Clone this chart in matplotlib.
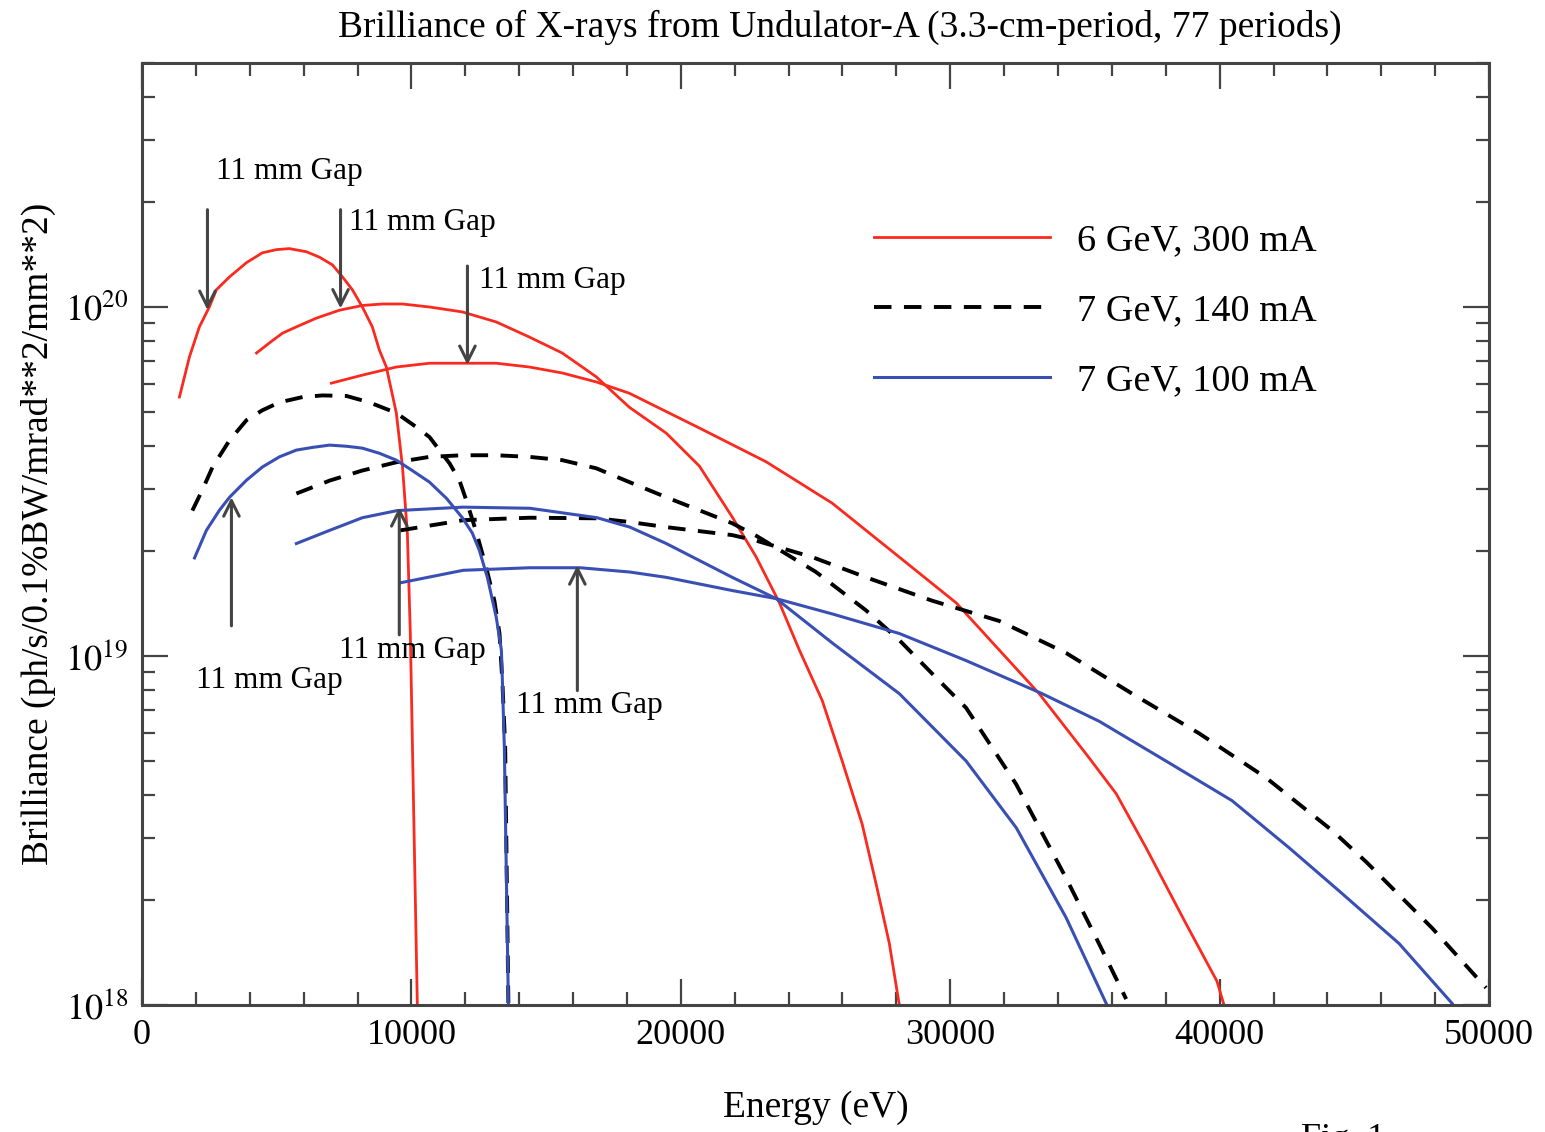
import matplotlib
matplotlib.use("Agg")
import matplotlib.pyplot as plt
import numpy as np

plt.rcParams['font.family'] = ['Liberation Serif', 'DejaVu Serif']
plt.rcParams['mathtext.fontset'] = 'stix'

# Photon energy (eV) and brilliance (units of 1e19 ph/s/0.1%BW/mrad^2/mm^2)
# 6 GeV, 300 mA: first, third and fifth harmonic tuning curves
red_h1_e = [1390, 1760, 2130, 2500, 2760, 3250, 3880, 4470, 4990, 5470, 6100,
            6580, 7070, 7440, 7810, 8180, 8550, 8810, 9070, 9440, 9670, 9850,
            9960, 10040, 10220]
red_h1_b = [5.52, 7.19, 8.77, 10.0, 11.2, 12.2, 13.4, 14.3, 14.6, 14.7, 14.4,
            13.9, 13.2, 12.2, 11.2, 10.0, 8.77, 7.53, 6.73, 4.97, 3.48, 2.25,
            1.16, 0.546, 0.10]
red_h3_e = [4250, 4730, 5210, 5730, 6470, 7330, 8180, 8920, 9670, 10670,
            11890, 13150, 14380, 15600, 16860, 18090, 19460, 20690, 21910,
            22800, 23660, 24400, 25250, 25990, 26730, 27250, 27740, 28110]
red_h3_b = [7.38, 7.89, 8.41, 8.77, 9.29, 9.79, 10.1, 10.2, 10.2, 10.0,
            9.68, 9.06, 8.2, 7.38, 6.31, 5.16, 4.35, 3.5, 2.5,
            1.92, 1.42, 1.04, 0.745, 0.50, 0.33, 0.222, 0.150, 0.10]
red_h5_e = [7030, 8180, 9440, 10670, 11890, 13150, 14380, 15600, 16860, 18090,
            20690, 23170, 25620, 28110, 30220, 31820, 33300, 35160, 36160,
            37270, 38750, 39900, 40160]
red_h5_b = [6.05, 6.38, 6.73, 6.90, 6.90, 6.90, 6.73, 6.47, 6.10, 5.66,
            4.5, 3.6, 2.74, 1.92, 1.42, 1.04, 0.78, 0.51, 0.403,
            0.282, 0.171, 0.117, 0.10]

# 7 GeV, 140 mA
blk_h1_e = [1870, 2240, 2620, 3250, 3880, 4470, 5100, 5960, 6700, 7590, 8440,
            9440, 10180, 10670, 11040, 11420, 11780, 12040, 12420, 12780,
            13080, 13270, 13380, 13480, 13600]
blk_h1_b = [2.61, 2.99, 3.48, 4.15, 4.74, 5.06, 5.33, 5.52, 5.58, 5.56, 5.33,
            4.97, 4.53, 4.24, 3.89, 3.56, 3.19, 2.79, 2.25, 1.79,
            1.44, 1.16, 0.834, 0.55, 0.10]
blk_h3_e = [5730, 6960, 8180, 9440, 10670, 11890, 13150, 14380, 15600, 16860,
            18090, 19460, 21910, 22800, 25020, 26880, 28110, 29330, 30590,
            32440, 34300, 35520, 36530]
blk_h3_b = [2.92, 3.18, 3.40, 3.59, 3.72, 3.76, 3.76, 3.72, 3.64, 3.45,
            3.15, 2.85, 2.40, 2.21, 1.74, 1.35, 1.11, 0.89, 0.71,
            0.43, 0.231, 0.150, 0.104]
blk_h5_e = [9580, 11920, 14400, 16890, 18110, 19460, 21910, 22800, 24880,
            26880, 29330, 31820, 34300, 36750, 39240, 41720, 44180, 45440,
            47890, 49890]
blk_h5_b = [2.29, 2.45, 2.49, 2.48, 2.42, 2.34, 2.22, 2.14, 1.92,
            1.68, 1.44, 1.26, 1.02, 0.78, 0.60, 0.448, 0.316, 0.257,
            0.166, 0.112]

# 7 GeV, 100 mA
blu_h1_e = [1950, 2390, 2880, 3250, 3880, 4470, 5100, 5730, 6330, 6960, 7590,
            8180, 8810, 9440, 10030, 10670, 11300, 11890, 12260, 12520,
            12820, 13150, 13340, 13380, 13450, 13600]
blu_h1_b = [1.91, 2.29, 2.62, 2.85, 3.19, 3.48, 3.72, 3.89, 3.96, 4.02, 3.99,
            3.94, 3.81, 3.64, 3.40, 3.15, 2.83, 2.49, 2.25, 2.01,
            1.68, 1.29, 1.04, 0.834, 0.546, 0.10]
blu_h3_e = [5730, 6960, 8180, 9470, 11920, 14400, 16890, 18110, 19460, 21910,
            23540, 25620, 28110, 30590, 32450, 34300, 35790]
blu_h3_b = [2.10, 2.29, 2.49, 2.61, 2.67, 2.65, 2.49, 2.34, 2.10, 1.68,
            1.46, 1.09, 0.78, 0.50, 0.322, 0.178, 0.101]
blu_h5_e = [9580, 11920, 14400, 16260, 18110, 19460, 21910, 23540, 25620,
            28110, 30590, 33410, 35530, 38010, 40460, 42580, 44440, 46660,
            48630]
blu_h5_b = [1.62, 1.76, 1.79, 1.79, 1.74, 1.68, 1.54, 1.46, 1.32,
            1.16, 0.97, 0.78, 0.65, 0.50, 0.385, 0.282, 0.212, 0.150,
            0.101]

series_labels = ['6 GeV, 300 mA', '7 GeV, 140 mA', '7 GeV, 100 mA']

# 11 mm gap markers: energy, arrow tip, arrow tail (1e19 units), text anchor
gap_e = [2430, 7370, 12080, 3320, 9550, 16160]
gap_tip = [9.8, 9.9, 6.82, 2.85, 2.67, 1.82]
gap_tail = [19.0, 19.0, 13.1, 1.22, 1.15, 0.796]
gap_text_e = [2760, 7700, 12510, 2020, 7330, 13900]
gap_text_b = [24.4, 17.5, 11.9, 0.85, 1.04, 0.72]

UNIT = 1e19
RED = '#fa2a1e'
BLUE = '#3a4fb4'
FRAME = '#444444'

fig = plt.figure(figsize=(15.45, 11.32), dpi=100)
ax = fig.add_axes([0.0919, 0.1122, 0.8719, 0.8321])


def draw(e, b, **kw):
    return ax.plot(e, np.array(b) * UNIT, **kw)[0]


red_kw = dict(color=RED, lw=2.0)
blk_kw = dict(color='black', lw=2.8, dashes=(4.5, 3.2))
blu_kw = dict(color=BLUE, lw=2.2)

h_red = draw(red_h1_e, red_h1_b, **red_kw)
draw(red_h3_e, red_h3_b, **red_kw)
draw(red_h5_e, red_h5_b, **red_kw)
h_blk = draw(blk_h1_e, blk_h1_b, **blk_kw)
draw(blk_h3_e, blk_h3_b, **blk_kw)
draw(blk_h5_e, blk_h5_b, **blk_kw)
h_blu = draw(blu_h1_e, blu_h1_b, **blu_kw)
draw(blu_h3_e, blu_h3_b, **blu_kw)
draw(blu_h5_e, blu_h5_b, **blu_kw)

for e, tip, tail, te, tb in zip(gap_e, gap_tip, gap_tail, gap_text_e, gap_text_b):
    ax.annotate('', xy=(e, tip * UNIT), xytext=(e, tail * UNIT),
                arrowprops=dict(arrowstyle='->', color=FRAME, lw=2.2,
                                mutation_scale=28, shrinkA=0, shrinkB=0))
    ax.text(te, tb * UNIT, '11 mm Gap', fontsize=22.5, ha='left', va='center')

ax.set_yscale('log')
ax.set_xlim(0, 50000)
ax.set_ylim(1e18, 5e20)
ax.set_xticks(np.arange(0, 50001, 10000))
ax.set_xticks(np.arange(0, 50001, 2000), minor=True)
ax.set_yticks([1e18, 1e19, 1e20])
ax.set_yticklabels([r'$10^{18}$', r'$10^{19}$', r'$10^{20}$'])
ax.tick_params(which='both', direction='in', top=True, right=True,
               colors=FRAME, labelcolor='black', labelsize=26, width=1.6)
ax.tick_params(which='major', length=19, pad=10)
ax.tick_params(which='minor', length=9.5)
for s in ax.spines.values():
    s.set_linewidth(2.2)
    s.set_color(FRAME)

ax.set_xlabel('Energy (eV)', fontsize=27, labelpad=28)
ax.set_ylabel('Brilliance (ph/s/0.1%BW/mrad**2/mm**2)', fontsize=27, labelpad=6)
ax.set_title('Brilliance of X-rays from Undulator-A (3.3-cm-period, 77 periods)',
             fontsize=27, pad=19, x=0.518)

ax.legend([h_red, h_blk, h_blu], series_labels, frameon=False, fontsize=27.5,
          loc='upper left', bbox_to_anchor=(0.518, 0.866), handlelength=4.6,
          handletextpad=0.7, labelspacing=0.92)

fig.text(0.842, 0.008, 'Fig. 1', fontsize=26, ha='left', va='top')

fig.savefig('out.png', dpi=100)
